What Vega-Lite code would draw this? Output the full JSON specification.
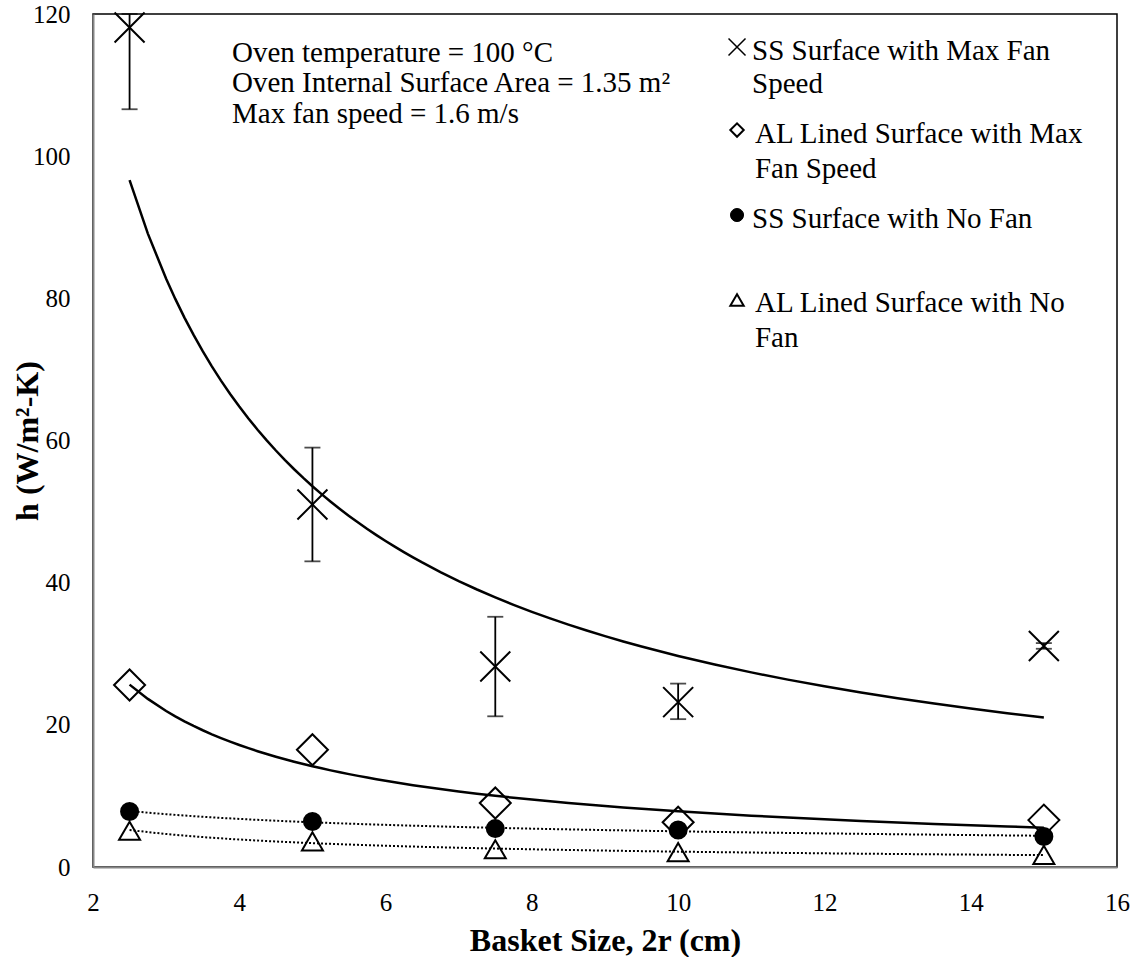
{
  "$schema": "https://vega.github.io/schema/vega-lite/v6.json",
  "width": 1024,
  "height": 853,
  "autosize": {"type": "none"},
  "padding": {"left": 93, "top": 14, "right": 23, "bottom": 90},
  "background": "white",
  "config": {
    "font": "Liberation Serif",
    "view": {"stroke": "black", "strokeWidth": 1.5},
    "axis": {
      "grid": false,
      "ticks": false,
      "tickSize": 0,
      "labelFlush": false,
      "domainColor": "#868686",
      "domainWidth": 2,
      "labelFont": "Liberation Serif",
      "labelFontSize": 25,
      "labelColor": "black",
      "titleFont": "Liberation Serif",
      "titleFontSize": 32,
      "titleFontWeight": "bold",
      "titleColor": "black"
    }
  },
  "datasets": {
    "pts": [
      {"series": "SS Surface with Max Fan Speed", "x": 2.5, "h": 118.1, "lo": 106.6, "hi": 120},
      {"series": "SS Surface with Max Fan Speed", "x": 5, "h": 51.0, "lo": 43.0, "hi": 59.0},
      {"series": "SS Surface with Max Fan Speed", "x": 7.5, "h": 28.2, "lo": 21.2, "hi": 35.2},
      {"series": "SS Surface with Max Fan Speed", "x": 10, "h": 23.2, "lo": 20.8, "hi": 25.8},
      {"series": "SS Surface with Max Fan Speed", "x": 15, "h": 31.1, "lo": 30.7, "hi": 31.5},
      {"series": "AL Lined Surface with Max Fan Speed", "x": 2.5, "h": 25.6},
      {"series": "AL Lined Surface with Max Fan Speed", "x": 5, "h": 16.5},
      {"series": "AL Lined Surface with Max Fan Speed", "x": 7.5, "h": 9.0},
      {"series": "AL Lined Surface with Max Fan Speed", "x": 10, "h": 6.3},
      {"series": "AL Lined Surface with Max Fan Speed", "x": 15, "h": 6.6},
      {"series": "SS Surface with No Fan", "x": 2.5, "h": 7.8},
      {"series": "SS Surface with No Fan", "x": 5, "h": 6.4},
      {"series": "SS Surface with No Fan", "x": 7.5, "h": 5.4},
      {"series": "SS Surface with No Fan", "x": 10, "h": 5.2},
      {"series": "SS Surface with No Fan", "x": 15, "h": 4.3},
      {"series": "AL Lined Surface with No Fan", "x": 2.5, "h": 5.1},
      {"series": "AL Lined Surface with No Fan", "x": 5, "h": 3.6},
      {"series": "AL Lined Surface with No Fan", "x": 7.5, "h": 2.5},
      {"series": "AL Lined Surface with No Fan", "x": 10, "h": 2.1},
      {"series": "AL Lined Surface with No Fan", "x": 15, "h": 1.7}
    ],
    "one": [{"k": 1}]
  },
  "layer": [
    {
      "data": {"name": "pts"},
      "encoding": {
        "x": {
          "field": "x",
          "type": "quantitative",
          "scale": {"domain": [2, 16], "nice": false, "zero": false},
          "axis": {
            "values": [2, 4, 6, 8, 10, 12, 14, 16],
            "format": "d",
            "labelPadding": 23,
            "titleY": 73,
            "titleBaseline": "middle"
          },
          "title": "Basket Size, 2r (cm)"
        },
        "y": {
          "field": "h",
          "type": "quantitative",
          "scale": {"domain": [0, 120], "nice": false, "zero": true},
          "axis": {
            "values": [0, 20, 40, 60, 80, 100, 120],
            "format": "d",
            "labelPadding": 23,
            "titleX": -66,
            "titleY": 426.5,
            "titleAngle": 270,
            "titleAlign": "center",
            "titleBaseline": "middle"
          },
          "title": "h (W/m²-K)"
        }
      },
      "layer": [
        {
          "transform": [
            {"filter": "datum.series == 'SS Surface with Max Fan Speed' || datum.series == 'AL Lined Surface with Max Fan Speed'"},
            {"regression": "h", "on": "x", "method": "pow", "groupby": ["series"]}
          ],
          "mark": {"type": "line", "color": "black", "strokeWidth": 2.5},
          "encoding": {"detail": {"field": "series", "type": "nominal"}}
        },
        {
          "transform": [
            {"filter": "datum.series == 'SS Surface with No Fan' || datum.series == 'AL Lined Surface with No Fan'"},
            {"regression": "h", "on": "x", "method": "pow", "groupby": ["series"]}
          ],
          "mark": {"type": "line", "color": "black", "strokeWidth": 2, "strokeDash": [2, 2]},
          "encoding": {"detail": {"field": "series", "type": "nominal"}}
        },
        {
          "transform": [{"filter": "datum.series == 'SS Surface with Max Fan Speed'"}],
          "mark": {"type": "errorbar", "color": "black", "rule": {"strokeWidth": 1.8}, "ticks": {"size": 16, "thickness": 1.8}},
          "encoding": {
            "y": {"field": "lo", "type": "quantitative", "title": "h (W/m²-K)"},
            "y2": {"field": "hi"}
          }
        },
        {
          "mark": {"type": "point", "filled": true, "stroke": "black", "strokeWidth": 2, "opacity": 1},
          "encoding": {
            "shape": {
              "field": "series",
              "type": "nominal",
              "scale": {
                "domain": ["SS Surface with Max Fan Speed", "AL Lined Surface with Max Fan Speed", "SS Surface with No Fan", "AL Lined Surface with No Fan"],
                "range": ["M-1,-1L1,1M-1,1L1,-1", "diamond", "circle", "triangle-up"]
              },
              "legend": null
            },
            "fill": {
              "field": "series",
              "type": "nominal",
              "scale": {
                "domain": ["SS Surface with Max Fan Speed", "AL Lined Surface with Max Fan Speed", "SS Surface with No Fan", "AL Lined Surface with No Fan"],
                "range": ["transparent", "transparent", "black", "transparent"]
              },
              "legend": null
            },
            "size": {
              "field": "series",
              "type": "nominal",
              "scale": {
                "type": "ordinal",
                "domain": ["SS Surface with Max Fan Speed", "AL Lined Surface with Max Fan Speed", "SS Surface with No Fan", "AL Lined Surface with No Fan"],
                "range": [900, 961, 289, 441]
              },
              "legend": null
            }
          }
        }
      ]
    },
    {
      "data": {"name": "one"},
      "mark": {"type": "text", "align": "left", "baseline": "alphabetic", "font": "Liberation Serif", "fontSize": 29, "lineHeight": 30.5, "color": "black", "text": ["Oven temperature = 100 °C", "Oven Internal Surface Area = 1.35 m²", "Max fan speed = 1.6 m/s"]},
      "encoding": {"x": {"datum": 3.9, "type": "quantitative"}, "y": {"datum": 113.25, "type": "quantitative"}}
    },
    {
      "data": {"name": "one"},
      "mark": {"type": "point", "shape": "M-1,-1L1,1M-1,1L1,-1", "size": 289, "filled": false, "stroke": "black", "strokeWidth": 1.5, "opacity": 1},
      "encoding": {"x": {"datum": 10.805, "type": "quantitative"}, "y": {"datum": 115.36, "type": "quantitative"}}
    },
    {
      "data": {"name": "one"},
      "mark": {"type": "point", "shape": "diamond", "size": 180, "filled": false, "stroke": "black", "strokeWidth": 2, "opacity": 1},
      "encoding": {"x": {"datum": 10.805, "type": "quantitative"}, "y": {"datum": 103.68, "type": "quantitative"}}
    },
    {
      "data": {"name": "one"},
      "mark": {"type": "point", "shape": "circle", "size": 170, "filled": true, "fill": "black", "stroke": "black", "strokeWidth": 1, "opacity": 1},
      "encoding": {"x": {"datum": 10.805, "type": "quantitative"}, "y": {"datum": 91.72, "type": "quantitative"}}
    },
    {
      "data": {"name": "one"},
      "mark": {"type": "point", "shape": "triangle-up", "size": 180, "filled": false, "stroke": "black", "strokeWidth": 2, "opacity": 1},
      "encoding": {"x": {"datum": 10.805, "type": "quantitative"}, "y": {"datum": 79.77, "type": "quantitative"}}
    },
    {
      "data": {"name": "one"},
      "mark": {"type": "text", "align": "left", "baseline": "alphabetic", "font": "Liberation Serif", "fontSize": 29, "lineHeight": 33.5, "color": "black", "text": ["SS Surface with Max Fan", "Speed"]},
      "encoding": {"x": {"datum": 11.01, "type": "quantitative"}, "y": {"datum": 113.53, "type": "quantitative"}}
    },
    {
      "data": {"name": "one"},
      "mark": {"type": "text", "align": "left", "baseline": "alphabetic", "font": "Liberation Serif", "fontSize": 29, "lineHeight": 34.5, "color": "black", "text": ["AL Lined Surface with Max", "Fan Speed"]},
      "encoding": {"x": {"datum": 11.05, "type": "quantitative"}, "y": {"datum": 101.85, "type": "quantitative"}}
    },
    {
      "data": {"name": "one"},
      "mark": {"type": "text", "align": "left", "baseline": "alphabetic", "font": "Liberation Serif", "fontSize": 29, "color": "black", "text": "SS Surface with No Fan"},
      "encoding": {"x": {"datum": 11.01, "type": "quantitative"}, "y": {"datum": 89.87, "type": "quantitative"}}
    },
    {
      "data": {"name": "one"},
      "mark": {"type": "text", "align": "left", "baseline": "alphabetic", "font": "Liberation Serif", "fontSize": 29, "lineHeight": 34.5, "color": "black", "text": ["AL Lined Surface with No", "Fan"]},
      "encoding": {"x": {"datum": 11.05, "type": "quantitative"}, "y": {"datum": 78.05, "type": "quantitative"}}
    }
  ]
}
